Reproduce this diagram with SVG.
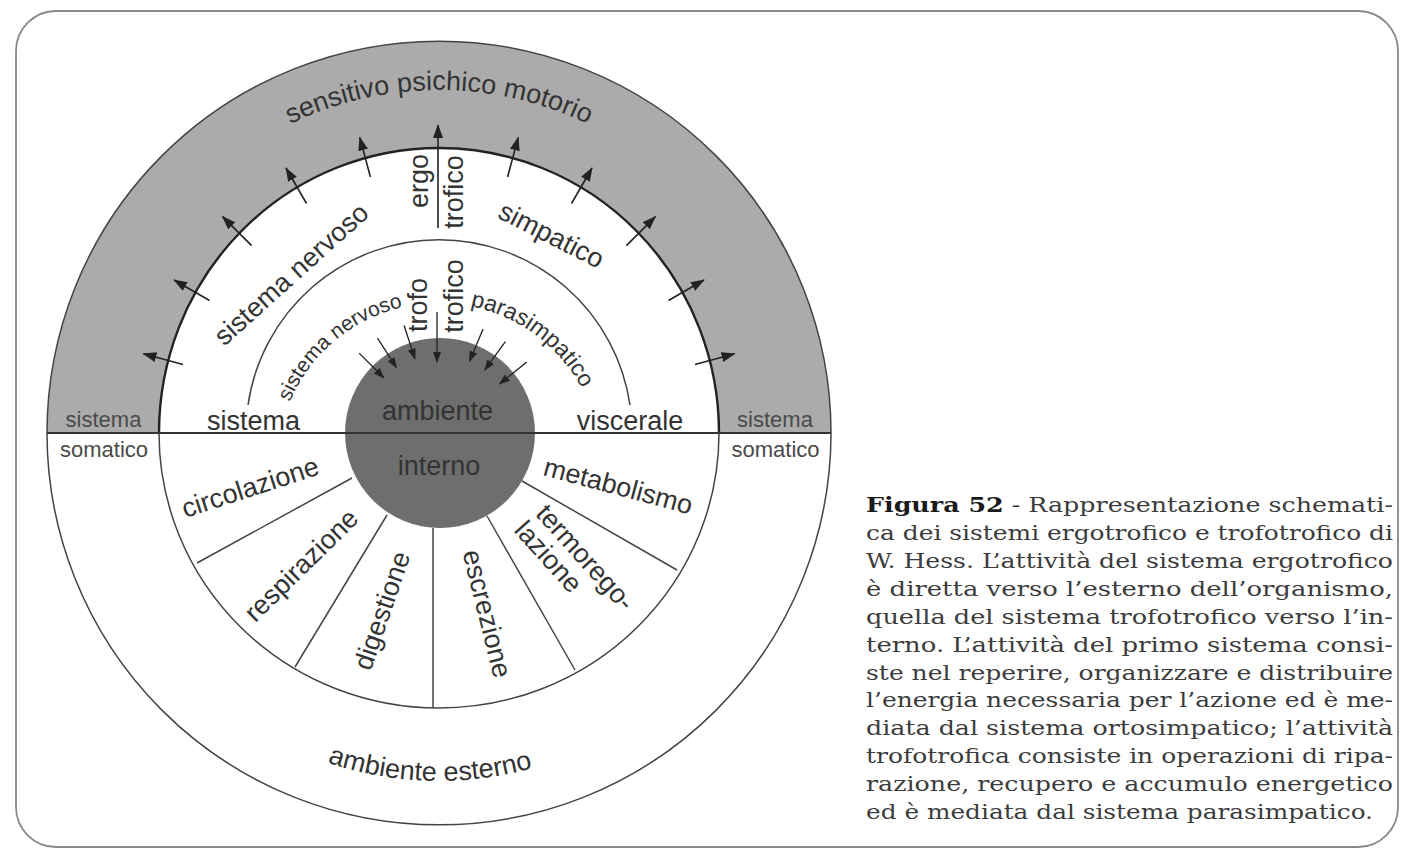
<svg xmlns="http://www.w3.org/2000/svg" width="1401" height="853" viewBox="0 0 1401 853">
<defs>
<style>
.t{font-family:"Liberation Sans",Arial,Helvetica,sans-serif;font-size:27px;fill:#333;text-anchor:middle}
.s{font-size:22px;fill:#4a4a4a}
.sm{font-size:21px}
.md{font-size:23px}
.cap{font-family:"DejaVu Serif","Liberation Serif",serif;font-size:21px;fill:#3c3c3c}
.ln{fill:none;stroke:#444;stroke-width:1.5}
.arr{stroke:#222;stroke-width:1.6;fill:none;marker-end:url(#ah)}
.arri{stroke:#222;stroke-width:1.3;fill:none;marker-end:url(#ahs)}
</style>
<marker id="ah" markerUnits="userSpaceOnUse" markerWidth="16" markerHeight="12" refX="13" refY="5" orient="auto"><path d="M0,0 L14,5 L0,10 Z" fill="#222"/></marker>
<marker id="ahs" markerUnits="userSpaceOnUse" markerWidth="12" markerHeight="10" refX="10" refY="4" orient="auto"><path d="M0,0 L11,4 L0,8 Z" fill="#222"/></marker>
<path id="pTop" d="M116.7,315.7 A343,343 0 0 1 761.3,315.7"/>
<path id="pBot" d="M112,552 A348,348 0 0 0 766,552"/>
<path id="pSN" d="M282.5,423.1 A162,162 0 0 1 424.9,303.6"/>
<path id="pPS" d="M443.2,303.1 A162,162 0 0 1 592.6,413.6"/>
</defs>
<rect width="1401" height="853" fill="#fff"/>
<g id="frame"><rect x="16" y="11" width="1382" height="836" rx="40" fill="none" stroke="#888" stroke-width="1.8"/></g>
<g id="rings">
<path d="M47,433 A392,392 0 0 1 831,433 L719,433 A280,285 0 0 0 159,433 Z" fill="#ababab"/>
<path class="ln" d="M47,433 A392,392 0 0 1 831,433"/>
<path class="ln" d="M831,433 A392,392 0 0 1 47,433"/>
<path d="M159,433 A280,285 0 0 1 719,433" fill="none" stroke="#222" stroke-width="2.4"/>
<path class="ln" d="M719,433 A280,275 0 0 1 159,433"/>
<path class="ln" stroke-width="1.2" d="M248,405 A193,193 0 0 1 630,405"/>
<circle id="core" cx="440" cy="433" r="95" fill="#6e6e6e"/>
<line x1="47" y1="433" x2="831" y2="433" stroke="#333" stroke-width="2"/>
<g id="spokes" class="ln">
<line x1="352" y1="478" x2="197" y2="563"/>
<line x1="387" y1="515" x2="295" y2="667"/>
<line x1="433" y1="528" x2="433" y2="708"/>
<line x1="487" y1="516" x2="575" y2="670"/>
<line x1="522" y1="481" x2="677" y2="570"/>
</g>
</g>
<g id="connectors">
<line class="arr" x1="695" y1="364.4" x2="734.6" y2="353.8"/>
<line class="arr" x1="668.5" y1="300.5" x2="704" y2="280"/>
<line class="arr" x1="626.4" y1="245.6" x2="655.4" y2="216.6"/>
<line class="arr" x1="571.5" y1="203.5" x2="592" y2="168"/>
<line class="arr" x1="507.6" y1="177" x2="518.2" y2="137.4"/>
<line class="arr" x1="438" y1="228" x2="438" y2="125"/>
<line class="arr" x1="370.4" y1="177" x2="359.8" y2="137.4"/>
<line class="arr" x1="306.5" y1="203.5" x2="286" y2="168"/>
<line class="arr" x1="251.6" y1="245.6" x2="222.6" y2="216.6"/>
<line class="arr" x1="209.5" y1="300.5" x2="174" y2="280"/>
<line class="arr" x1="183" y1="364.4" x2="143.4" y2="353.8"/>
<line class="arri" x1="359.1" y1="353.1" x2="383.8" y2="377.8"/>
<line class="arri" x1="377.5" y1="338.2" x2="396.5" y2="367.6"/>
<line class="arri" x1="404.1" y1="325.5" x2="414.9" y2="358.8"/>
<line class="arri" x1="437" y1="312" x2="437" y2="362"/>
<line class="arri" x1="483.1" y1="329" x2="469.5" y2="361.2"/>
<line class="arri" x1="505.4" y1="341.6" x2="484.8" y2="369.9"/>
<line class="arri" x1="526.8" y1="361.9" x2="499.6" y2="383.9"/>
</g>
<g id="band-top"><text class="t"><textPath href="#pTop" startOffset="50%">sensitivo psichico motorio</textPath></text></g>
<g id="band-bottom"><text class="t"><textPath href="#pBot" startOffset="48.9%">ambiente esterno</textPath></text></g>
<g id="somatic-left"><text class="t s" x="103.5" y="427">sistema</text><text class="t s" x="104" y="457">somatico</text></g>
<g id="somatic-right"><text class="t s" x="775" y="427">sistema</text><text class="t s" x="775.5" y="457">somatico</text></g>
<g id="ergotrofico">
<text class="t" transform="translate(292,275) rotate(-42)" y="8">sistema nervoso</text>
<text class="t" transform="translate(551,236) rotate(27)" y="8">simpatico</text>
<text class="t" transform="translate(428,181) rotate(-90)">ergo</text>
<text class="t" transform="translate(463,192) rotate(-90)">trofico</text>
</g>
<g id="trofotrofico">
<text class="t sm"><textPath href="#pSN" startOffset="50%">sistema nervoso</textPath></text>
<text class="t md"><textPath href="#pPS" startOffset="50%">parasimpatico</textPath></text>
<text class="t" transform="translate(427,305) rotate(-90)">trofo</text>
<text class="t" transform="translate(463,296) rotate(-90)">trofico</text>
</g>
<g id="visceral-labels">
<text class="t" x="253.5" y="430">sistema</text>
<text class="t" x="630" y="430">viscerale</text>
</g>
<g id="core-labels">
<text class="t" x="437.5" y="420">ambiente</text>
<text class="t" x="439" y="475">interno</text>
</g>
<g id="sectors">
<text class="t" transform="translate(253,496) rotate(-18)">circolazione</text>
<text class="t" transform="translate(302,566) rotate(-44.5)" y="8">respirazione</text>
<text class="t" transform="translate(383,611) rotate(-71)" y="8">digestione</text>
<text class="t" transform="translate(486,614) rotate(76)" y="8">escrezione</text>
<text class="t" transform="translate(543,512) rotate(48)" style="text-anchor:start"><tspan x="-4" y="8">termorego-</tspan><tspan x="-6" y="35">lazione</tspan></text>
<text class="t" transform="translate(618,487) rotate(15)" y="8">metabolismo</text>
</g>
<g id="caption" class="cap">
<text x="866" y="512" textLength="527" lengthAdjust="spacingAndGlyphs"><tspan font-weight="bold" fill="#1a1a1a">Figura 52</tspan> - Rappresentazione schemati-</text>
<text x="866" y="540" textLength="527" lengthAdjust="spacingAndGlyphs">ca dei sistemi ergotrofico e trofotrofico di</text>
<text x="866" y="568" textLength="527" lengthAdjust="spacingAndGlyphs">W. Hess. L’attività del sistema ergotrofico</text>
<text x="866" y="596" textLength="527" lengthAdjust="spacingAndGlyphs">è diretta verso l’esterno dell’organismo,</text>
<text x="866" y="624" textLength="527" lengthAdjust="spacingAndGlyphs">quella del sistema trofotrofico verso l’in-</text>
<text x="866" y="652" textLength="527" lengthAdjust="spacingAndGlyphs">terno. L’attività del primo sistema consi-</text>
<text x="866" y="680" textLength="527" lengthAdjust="spacingAndGlyphs">ste nel reperire, organizzare e distribuire</text>
<text x="866" y="707" textLength="527" lengthAdjust="spacingAndGlyphs">l’energia necessaria per l’azione ed è me-</text>
<text x="866" y="735" textLength="527" lengthAdjust="spacingAndGlyphs">diata dal sistema ortosimpatico; l’attività</text>
<text x="866" y="763" textLength="527" lengthAdjust="spacingAndGlyphs">trofotrofica consiste in operazioni di ripa-</text>
<text x="866" y="791" textLength="527" lengthAdjust="spacingAndGlyphs">razione, recupero e accumulo energetico</text>
<text x="866" y="819" textLength="507" lengthAdjust="spacingAndGlyphs">ed è mediata dal sistema parasimpatico.</text>
</g>
</svg>
